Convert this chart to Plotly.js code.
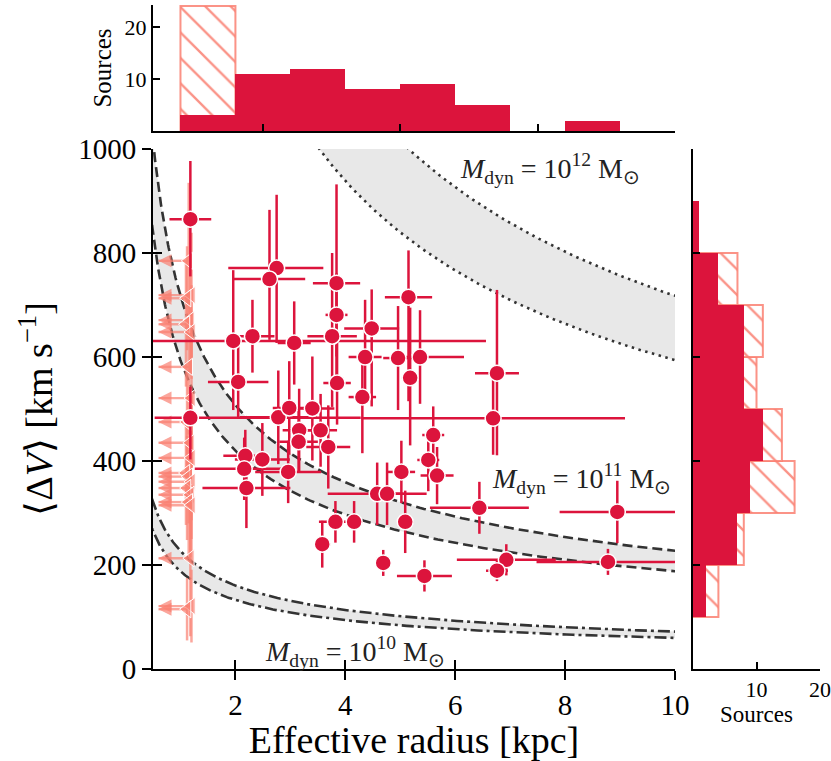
<!DOCTYPE html>
<html><head><meta charset="utf-8">
<script src="https://cdn.plot.ly/plotly-3.0.1.min.js"></script>
<style>html,body{margin:0;padding:0;background:#fff}</style>
</head><body><div id="chart" style="width:831px;height:761px"></div>
<script>
// ---- detected sources: effective radius [kpc] and <ΔV> [km/s] ----
const radius     = [1.18,2.75,2.62,3.84,3.84,1.96,2.31,3.07,3.76,4.48,5.15,4.36,4.96,5.36,5.18,4.31,6.76,6.69,1.18,5.60,5.51,5.02,5.67,2.05,3.85,2.78,2.98,3.40,3.16,3.55,3.15,3.69,2.18,2.49,2.16,2.96,2.20,3.82,4.16,3.58,4.58,4.76,5.09,6.44,8.95,6.93,6.76,8.78,5.44,4.69];
const radiusErrLo= [0.38,0.88,0.66,0.43,0.20,1.46,0.40,0.30,0.45,0.50,0.43,0.30,0.27,0.30,0.15,0.25,0.40,2.40,0.65,0.20,0.20,0.25,0.30,0.55,0.25,0.70,0.30,0.40,0.30,0.30,0.35,0.40,0.40,0.50,0.90,0.60,0.80,0.30,0.15,0.15,0.90,0.30,0.15,0.90,1.05,0.90,0.20,1.30,0.50,0.10];
const radiusErrHi= [0.38,0.85,0.65,0.43,0.20,4.60,0.40,0.30,0.45,0.50,0.43,0.30,0.30,0.80,0.15,0.25,0.40,2.40,3.10,0.20,0.20,0.25,0.30,0.55,0.25,0.70,0.30,0.40,0.30,0.30,0.35,0.40,0.40,0.50,0.90,0.60,0.80,0.30,0.15,0.15,0.90,0.30,0.15,0.90,1.05,0.90,0.20,1.30,0.50,0.10];
const deltaV     = [865,771,750,742,681,631,640,627,640,655,715,600,598,600,560,523,569,482,483,450,402,379,372,552,550,484,502,501,459,459,437,427,410,403,385,379,348,283,283,240,337,337,283,310,302,210,189,206,179,204];
const deltaVErrLo= [110,144,117,200, 80,133, 70, 80,136,150,200, 90,100, 90,130,108,158, 70, 80, 55, 60, 60, 55, 70, 80, 90, 90,100, 80, 70, 60, 80, 60, 70, 60, 60, 77, 40, 40, 45, 60, 60, 60, 50, 60, 30, 20, 25, 30, 25];
const deltaVErrHi= [112,141,133,190, 80,136, 70, 80,160, 75, 90,110,100, 90,135, 77,160, 80, 60, 55, 40, 60, 55, 70, 80, 90, 90,100, 80, 70, 60, 80, 50, 70, 60, 60, 50, 40, 40, 45, 60, 60, 60, 50, 60, 30, 20, 25, 30, 25];

// ---- unresolved sources (upper limits on radius) ----
const limRadius  = [1.15,1.20,1.12,1.18,1.10,1.20,1.15,1.20,1.12,1.18,1.20,1.10,1.15,1.20,1.12,1.18,1.15,1.20,1.18,1.20,1.12];
const limDeltaV  = [785,719,713,671,663,648,581,521,475,435,406,377,370,360,348,335,321,315,213,121,115];
const limVErr    = [150,120,100,100,120, 90,130,110,100, 90,120,100, 90,110,100,120,100, 90,150, 70, 60];

// ---- histograms ----
const rBinCenters   = [1.5,2.5,3.5,4.5,5.5,6.5,7.5,8.5];
const rCountsResolved = [3,11,12,8,9,5,0,2];
const rCountsAll      = [24,11,12,8,9,5,0,2];
const vBinCenters   = [150,250,350,450,550,650,750,850];
const vCountsResolved = [2,7,9,11,8,8,4,1];
const vCountsAll      = [4,8,16,14,10,11,7,1];

// ---- dynamical mass model curves ----
const massLevels  = [1e12, 1e11, 1e10];
const massExp     = ['12','11','10'];
const massDash    = ['2.5px,4.5px', '10px,5px', '12px,4px,3px,4px'];
const kUpper = 0.835, kLower = 1.22, Gconst = 4.30091e-6;
const labelR = [7.72, 8.3, 4.18];
const labelV = [962, 367, 33];

const CRIMSON = '#DC143C';
const SALMON = 'rgba(250,128,114,0.85)';
const SALMON_L = 'rgba(250,128,114,0.7)';
const SERIF = "'Liberation Serif', 'Times New Roman', serif";
const ARROW_TIP = 0.6;

const rGrid = [];
for (let i = 0; i <= 240; i++) rGrid.push(0.3 * Math.pow(11/0.3, i/240));

const traces = [];
massLevels.forEach((M, i) => {
  const lo = rGrid.map(r => Math.sqrt(Gconst*M/(kLower*r)));
  const hi = rGrid.map(r => Math.sqrt(Gconst*M/(kUpper*r)));
  traces.push({x:rGrid, y:lo, mode:'lines', line:{color:'#333', width:2.6, dash:massDash[i]}, hoverinfo:'skip'});
  traces.push({x:rGrid, y:hi, mode:'lines', fill:'tonexty', fillcolor:'#e8e8e8', line:{color:'#333', width:2.6, dash:massDash[i]}, hoverinfo:'skip'});
});

// upper-limit arrows
traces.push({
  x: limRadius.flatMap(r => [r, ARROW_TIP, null]),
  y: limDeltaV.flatMap(v => [v, v, null]),
  mode:'lines', line:{color:SALMON_L, width:2.4}, hoverinfo:'skip'
});
traces.push({
  x: limRadius.map(() => ARROW_TIP), y: limDeltaV, mode:'markers',
  marker:{symbol:'arrow-left', size:13, color:SALMON_L, line:{width:0}}, hoverinfo:'skip'
});
traces.push({
  x: limRadius, y: limDeltaV, mode:'markers',
  marker:{symbol:'triangle-left', size:15, color:SALMON_L, line:{color:'white', width:1}},
  error_y:{type:'data', array:limVErr, color:SALMON_L, thickness:2.5, width:0}
});

traces.push({
  x: radius, y: deltaV, mode:'markers',
  marker:{symbol:'circle', size:16, color:CRIMSON, line:{color:'white', width:1.5}},
  error_x:{type:'data', symmetric:false, array:radiusErrHi, arrayminus:radiusErrLo, color:CRIMSON, thickness:2.5, width:0},
  error_y:{type:'data', symmetric:false, array:deltaVErrHi, arrayminus:deltaVErrLo, color:CRIMSON, thickness:2.5, width:0}
});

// top histogram (radius)
traces.push({
  type:'bar', x:rBinCenters, y:rCountsAll.map((c,i)=> c>rCountsResolved[i] ? c : null), width:1,
  xaxis:'x2', yaxis:'y2',
  marker:{color:'white', line:{color:SALMON, width:2}, pattern:{shape:'\\', fgcolor:SALMON, bgcolor:'white', size:18, solidity:0.13}}
});
traces.push({
  type:'bar', x:rBinCenters, y:rCountsResolved, width:1, xaxis:'x2', yaxis:'y2',
  marker:{color:CRIMSON, line:{width:0}}
});
// right histogram (velocity)
traces.push({
  type:'bar', orientation:'h', y:vBinCenters, x:vCountsAll.map((c,i)=> c>vCountsResolved[i] ? c : null), width:100,
  xaxis:'x3', yaxis:'y3',
  marker:{color:'white', line:{color:SALMON, width:2}, pattern:{shape:'\\', fgcolor:SALMON, bgcolor:'white', size:18, solidity:0.13}}
});
traces.push({
  type:'bar', orientation:'h', y:vBinCenters, x:vCountsResolved, width:100, xaxis:'x3', yaxis:'y3',
  marker:{color:CRIMSON, line:{width:0}}
});
// inner halves of the main-axis ticks
traces.push({x:[null], y:[null], xaxis:'x4', yaxis:'y4', mode:'markers', hoverinfo:'skip'});

const annotations = [];
massLevels.forEach((M, i) => {
  annotations.push({x:labelR[i], y:labelV[i], xref:'x', yref:'y', showarrow:false,
    text:'<i>M</i><sub>dyn</sub> = 10<sup>'+massExp[i]+'</sup> M<sub>⊙</sub>',
    font:{family:SERIF, size:28, color:'#222'}});
});

const axBase = {showgrid:false, zeroline:false, showline:true, linecolor:'black', linewidth:2,
  tickcolor:'black', tickwidth:2, tickfont:{family:SERIF, size:29, color:'black'}};

const layout = {
  width:831, height:761, margin:{l:153, r:11, t:5, b:92},
  paper_bgcolor:'white', plot_bgcolor:'rgba(0,0,0,0)', showlegend:false, barmode:'overlay', bargap:0,
  font:{family:SERIF, color:'black'},
  xaxis: Object.assign({}, axBase, {domain:[0,0.7826], range:[0.5,10], anchor:'y', tickvals:[2,4,6,8,10],
    ticks:'outside', ticklen:9, title:{text:'Effective radius [kpc]', font:{family:SERIF, size:38}, standoff:11}}),
  yaxis: Object.assign({}, axBase, {domain:[0,0.7831], range:[0,1000], anchor:'x', tickvals:[0,200,400,600,800,1000],
    ticks:'outside', ticklen:9, title:{text:'⟨Δ<i>V</i>⟩ [km s<sup>−1</sup>]', font:{family:SERIF, size:38}, standoff:14}}),
  xaxis4: {overlaying:'x', anchor:'y4', range:[0.5,10], tickvals:[2,4,6,8,10], ticks:'inside', ticklen:9, tickwidth:2,
    tickcolor:'black', showticklabels:false, showgrid:false, zeroline:false, showline:false},
  yaxis4: {overlaying:'y', anchor:'x4', range:[0,1000], tickvals:[0,200,400,600,800,1000], ticks:'inside', ticklen:9, tickwidth:2,
    tickcolor:'black', showticklabels:false, showgrid:false, zeroline:false, showline:false},
  xaxis2: Object.assign({}, axBase, {domain:[0,0.7826], range:[0.5,10], anchor:'y2', tickvals:[2.5,5,7.5,10],
    ticks:'inside', ticklen:7, showticklabels:false}),
  yaxis2: Object.assign({}, axBase, {domain:[0.8102,1], range:[0,24.2], anchor:'x2', tickvals:[10,20],
    ticks:'inside', ticklen:7, tickfont:{family:SERIF, size:22}, title:{text:'Sources', font:{family:SERIF, size:25}, standoff:6}}),
  xaxis3: Object.assign({}, axBase, {domain:[0.8096,1], range:[0,20], anchor:'y3', tickvals:[10,20],
    ticks:'inside', ticklen:7, ticklabeloverflow:'allow', tickfont:{family:SERIF, size:22},
    title:{text:'Sources', font:{family:SERIF, size:23}, standoff:2}}),
  yaxis3: Object.assign({}, axBase, {domain:[0,0.7831], range:[0,1000], anchor:'x3', tickvals:[0,200,400,600,800,1000],
    ticks:'inside', ticklen:7, showticklabels:false}),
  annotations: annotations
};

Plotly.newPlot('chart', traces, layout, {staticPlot:true, displayModeBar:false});
</script></body></html>
